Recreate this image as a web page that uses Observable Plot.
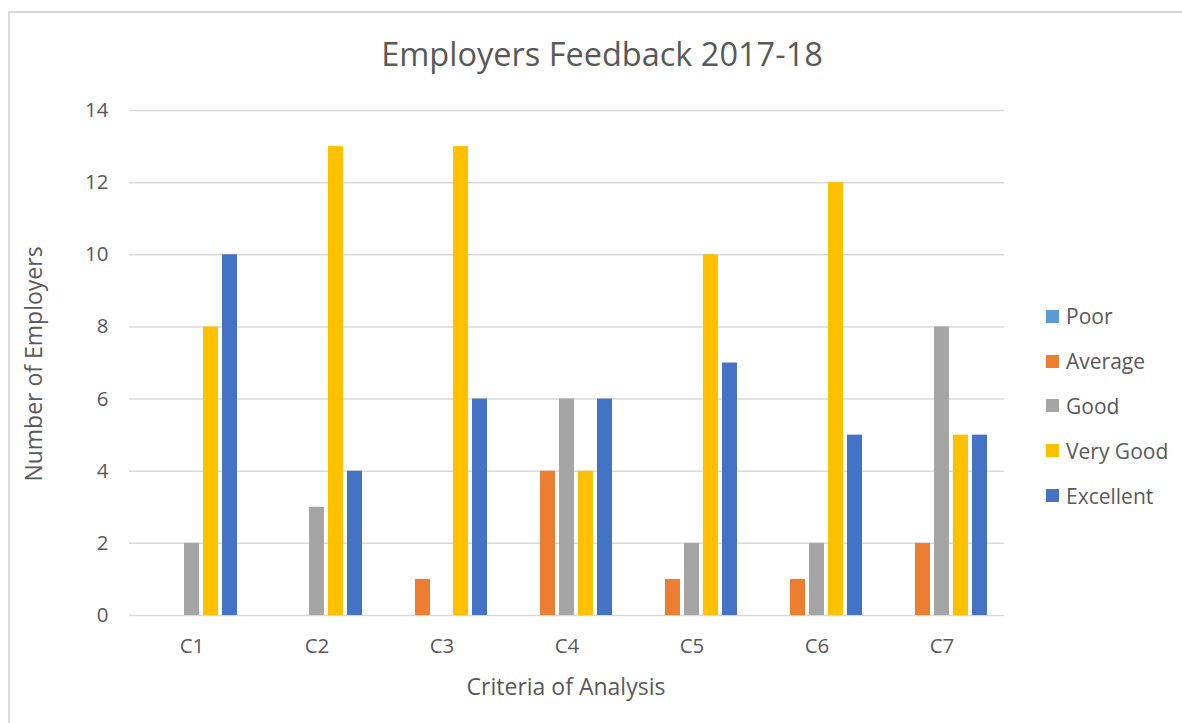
<!DOCTYPE html>
<html>
<head>
<meta charset="utf-8">
<script src="https://cdn.jsdelivr.net/npm/d3@7"></script>
<script src="https://cdn.jsdelivr.net/npm/@observablehq/plot@0.6"></script>
<style>
  html, body { margin: 0; padding: 0; background: #fff; }
  #wrap { position: relative; width: 1182px; height: 723px; overflow: hidden; font-family: "Open Sans", sans-serif; color: #595959; }
  #border { position: absolute; left: 8px; top: 11px; width: 1200px; height: 740px; border: 2px solid #d9d9d9; box-sizing: border-box; }
  #title { position: absolute; left: 11px; width: 1182px; top: 32px; text-align: center; font-size: 32.5px; line-height: 44px; color: #595959; }
  #ylabel { position: absolute; left: 33px; top: 364px; font-size: 23px; line-height: 30px; white-space: nowrap; transform: translate(-50%, -50%) rotate(-90deg); }
  #xlabel { position: absolute; left: 566px; top: 686px; font-size: 23px; line-height: 30px; white-space: nowrap; transform: translate(-50%, -50%); }
  #legend { position: absolute; left: 1046px; top: 294px; }
  .item { display: flex; align-items: center; height: 44.8px; font-size: 21px; }
  .sw { width: 13px; height: 13px; margin-right: 7px; }
  #chart { position: absolute; left: 0; top: 0; }
</style>
</head>
<body>
<div id="wrap">
  <div id="border"></div>
  <div id="chart"></div>
  <div id="title">Employers Feedback 2017-18</div>
  <div id="ylabel">Number of Employers</div>
  <div id="xlabel">Criteria of Analysis</div>
  <div id="legend"></div>
</div>
<script>
const categories = ["C1", "C2", "C3", "C4", "C5", "C6", "C7"];
const series = ["Poor", "Average", "Good", "Very Good", "Excellent"];
const poor = [0, 0, 0, 0, 0, 0, 0];
const average = [0, 0, 1, 4, 1, 1, 2];
const good = [2, 3, 0, 6, 2, 2, 8];
const veryGood = [8, 13, 13, 4, 10, 12, 5];
const excellent = [10, 4, 6, 6, 7, 5, 5];
const colors = ["#5B9BD5", "#ED7D31", "#A5A5A5", "#FFC000", "#4472C4"];
const yTicks = [0, 2, 4, 6, 8, 10, 12, 14];

const seriesValues = [poor, average, good, veryGood, excellent];
const data = [];
categories.forEach((c, i) => {
  series.forEach((s, j) => data.push({category: c, series: s, value: seriesValues[j][i]}));
});

const chart = Plot.plot({
  width: 1182,
  height: 723,
  marginTop: 110,
  marginBottom: 108,
  marginLeft: 128,
  marginRight: 177,
  style: {fontFamily: "'Open Sans', sans-serif", fontSize: "20.5px", color: "#595959", background: "transparent", overflow: "visible"},
  fx: {domain: categories, padding: 0, axis: "bottom", label: null, tickSize: 0, tickPadding: 23},
  x: {domain: series, axis: null, paddingInner: 0.22, paddingOuter: 0.87},
  y: {domain: [0, 14], ticks: yTicks, label: null, tickSize: 0, tickPadding: 21, tickFormat: d3.format("d")},
  color: {domain: series, range: colors},
  marks: [
    Plot.gridY(yTicks, {stroke: "#d9d9d9", strokeOpacity: 1, strokeWidth: 1.5}),
    Plot.barY(data, {fx: "category", x: "series", y: "value", fill: "series"})
  ]
});
document.getElementById("chart").appendChild(chart);

const legend = document.getElementById("legend");
series.forEach((s, j) => {
  const item = document.createElement("div");
  item.className = "item";
  const sw = document.createElement("div");
  sw.className = "sw";
  sw.style.background = colors[j];
  const label = document.createElement("span");
  label.textContent = s;
  item.appendChild(sw);
  item.appendChild(label);
  legend.appendChild(item);
});
</script>
</body>
</html>
